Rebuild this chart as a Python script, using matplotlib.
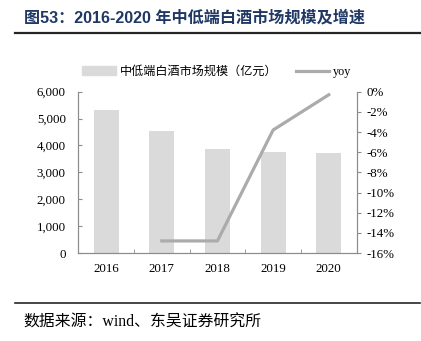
import matplotlib

matplotlib.use("Agg")
import matplotlib.pyplot as plt
import numpy as np
from matplotlib.lines import Line2D
from matplotlib.ticker import FuncFormatter, MultipleLocator

# ── Data ──────────────────────────────────────────────
years = ["2016", "2017", "2018", "2019", "2020"]
market_size = [5330, 4550, 3870, 3740, 3720]  # 亿元
yoy = [np.nan, -14.8, -14.8, -3.8, -0.3]  # %

BAR_COLOR = "#DADADA"
LINE_COLOR = "#ABABAB"
AXIS_COLOR = "#8C8C8C"
TITLE_COLOR = "#1F3864"
SERIF_CJK = ["Liberation Serif", "Noto Sans CJK SC"]

plt.rcParams["font.family"] = SERIF_CJK

fig = plt.figure(figsize=(4.21, 3.41), dpi=100)
ax = fig.add_axes([0.186, 0.258, 0.661, 0.473])
ax2 = ax.twinx()

x = np.arange(len(years))
ax.bar(x, market_size, width=0.45, color=BAR_COLOR, zorder=1)
ax2.plot(x, yoy, color=LINE_COLOR, linewidth=2.3, zorder=3)

# left axis
ax.set_xlim(-0.5, len(years) - 0.5)
ax.set_ylim(0, 6000)
ax.yaxis.set_major_locator(MultipleLocator(1000))
ax.yaxis.set_major_formatter(FuncFormatter(lambda v, p: f"{v:,.0f}"))
ax.set_xticks(x)
ax.set_xticklabels(years)
ax.set_xticks(np.arange(-0.5, len(years)), minor=True)
ax.tick_params(axis="x", which="major", length=0, labelsize=9.3, pad=7)
ax.tick_params(axis="x", which="minor", direction="in", length=3, color=AXIS_COLOR)
ax.tick_params(axis="y", direction="in", length=3, color=AXIS_COLOR,
               labelsize=9.3, pad=9)

# right axis
ax2.set_ylim(-16, 0)
ax2.yaxis.set_major_locator(MultipleLocator(2))
ax2.yaxis.set_major_formatter(FuncFormatter(lambda v, p: f"{v:.0f}%"))
ax2.tick_params(axis="y", direction="out", length=3, color=AXIS_COLOR,
                labelsize=9.3, pad=4)

for a in (ax, ax2):
    a.spines["top"].set_visible(False)
    for s in ("left", "right", "bottom"):
        a.spines[s].set_color(AXIS_COLOR)
        a.spines[s].set_linewidth(0.8)

# legend
handles = [
    plt.Rectangle((0, 0), 1, 1, color=BAR_COLOR),
    Line2D([0], [0], color=LINE_COLOR, linewidth=2.3),
]
fig.legend(
    handles,
    ["中低端白酒市场规模（亿元）", "yoy"],
    loc="center",
    bbox_to_anchor=(0.515, 0.789),
    ncol=2,
    frameon=False,
    fontsize=8.7,
    handlelength=2.8,
    handleheight=0.8,
    columnspacing=1.5,
    handletextpad=0.3,
)

# title and footer
fig.text(
    0.058,
    0.947,
    "图53：2016-2020 年中低端白酒市场规模及增速",
    fontsize=11.6,
    fontweight="bold",
    color=TITLE_COLOR,
    family=["Liberation Sans", "Noto Sans CJK SC"],
    va="center",
)
fig.add_artist(
    Line2D([0.036, 0.998], [0.902, 0.902], color="#262626", linewidth=1.6)
)
fig.add_artist(
    Line2D([0.036, 0.998], [0.112, 0.112], color="#262626", linewidth=1.2)
)
fig.text(0.055, 0.053, "数据来源：wind、东吴证券研究所", fontsize=11.4, va="center")

fig.savefig("out.png", dpi=100)
